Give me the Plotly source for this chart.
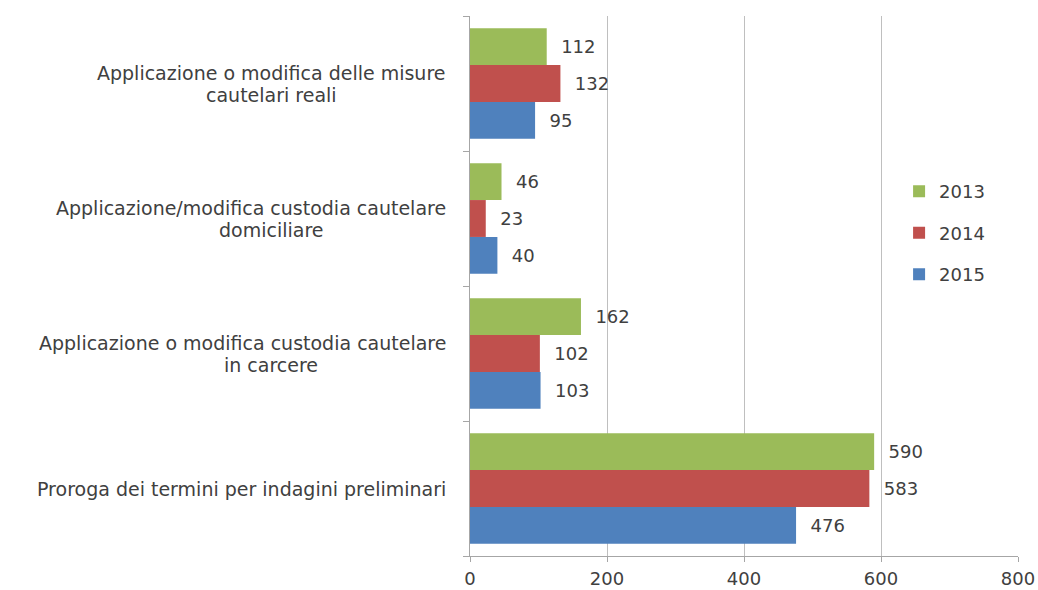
import plotly.graph_objects as go

# Categories listed bottom-to-top, as they appear on the y axis
categories = [
    "Proroga dei termini per indagini preliminari",
    "Applicazione o modifica custodia cautelare in carcere",
    "Applicazione/modifica custodia cautelare domiciliare",
    "Applicazione o modifica delle misure cautelari reali",
]
# Category text split in the two lines in which it is written
label_line1 = [
    "Proroga dei termini per indagini preliminari",
    "Applicazione o modifica custodia cautelare",
    "Applicazione/modifica custodia cautelare",
    "Applicazione o modifica delle misure",
]
label_line2 = ["", "in carcere", "domiciliare", "cautelari reali"]

years = ["2015", "2014", "2013"]
values_2015 = [476, 103, 40, 95]
values_2014 = [583, 102, 23, 132]
values_2013 = [590, 162, 46, 112]
series = [values_2015, values_2014, values_2013]
colors = ["#4F81BD", "#C0504D", "#9BBB59"]
legend_ranks = [3, 2, 1]
x_ticks = [0, 200, 400, 600, 800]

FONT = "'DejaVu Sans', sans-serif"
FSIZE = 18
LABEL_SIZE = 19
TEXT_COLOR = "#404040"
NBSP = "\u00a0"

fig = go.Figure()
for year, vals, col, rank in zip(years, series, colors, legend_ranks):
    fig.add_trace(go.Bar(
        y=categories,
        x=vals,
        name=year,
        orientation="h",
        marker=dict(color=col, line=dict(width=0)),
        texttemplate=NBSP * 2 + "%{x}",
        textposition="outside",
        constraintext="none",
        cliponaxis=False,
        textfont=dict(family=FONT, size=FSIZE, color=TEXT_COLOR),
        legendgroup=year,
        legendrank=rank,
        hoverinfo="x+name",
    ))

# Category labels drawn beside the axis, first line right-aligned, second centred
annotations = []
for cat, l1, l2 in zip(categories, label_line1, label_line2):
    if l2:
        annotations.append(dict(
            x=-0.041, xref="paper", y=cat, yref="y", text=l1,
            xanchor="right", yanchor="middle", yshift=11, showarrow=False,
            font=dict(family=FONT, size=LABEL_SIZE, color=TEXT_COLOR),
        ))
        annotations.append(dict(
            x=-0.363, xref="paper", y=cat, yref="y", text=l2,
            xanchor="center", yanchor="middle", yshift=-11, showarrow=False,
            font=dict(family=FONT, size=LABEL_SIZE, color=TEXT_COLOR),
        ))
    else:
        annotations.append(dict(
            x=-0.041, xref="paper", y=cat, yref="y", text=l1,
            xanchor="right", yanchor="middle", showarrow=False,
            font=dict(family=FONT, size=LABEL_SIZE, color=TEXT_COLOR),
        ))

fig.update_layout(
    width=1038,
    height=590,
    margin=dict(l=470, r=20, t=16, b=34, autoexpand=False),
    paper_bgcolor="white",
    plot_bgcolor="white",
    barmode="group",
    bargap=0.18,
    bargroupgap=0,
    font=dict(family=FONT, size=FSIZE, color=TEXT_COLOR),
    xaxis=dict(
        range=[0, 800],
        tickvals=x_ticks,
        showgrid=True,
        gridcolor="#BFBFBF",
        gridwidth=1,
        showline=True,
        linecolor="#A6A6A6",
        linewidth=1,
        ticks="outside",
        ticklen=5,
        tickcolor="#A6A6A6",
        ticklabelstandoff=1,
        zeroline=False,
        automargin=False,
        tickfont=dict(family=FONT, size=FSIZE, color=TEXT_COLOR),
        fixedrange=True,
    ),
    yaxis=dict(
        type="category",
        categoryorder="array",
        categoryarray=categories,
        showticklabels=False,
        showline=True,
        linecolor="#A6A6A6",
        linewidth=1,
        ticks="outside",
        tickson="boundaries",
        ticklen=6,
        tickcolor="#A6A6A6",
        showgrid=False,
        automargin=False,
        fixedrange=True,
    ),
    legend=dict(
        x=0.783,
        y=0.709,
        xanchor="left",
        yanchor="top",
        traceorder="grouped",
        tracegroupgap=15,
        font=dict(family=FONT, size=FSIZE, color=TEXT_COLOR),
        itemwidth=30,
        bgcolor="rgba(0,0,0,0)",
    ),
    annotations=annotations,
    showlegend=True,
)

fig.write_html("out.html")
